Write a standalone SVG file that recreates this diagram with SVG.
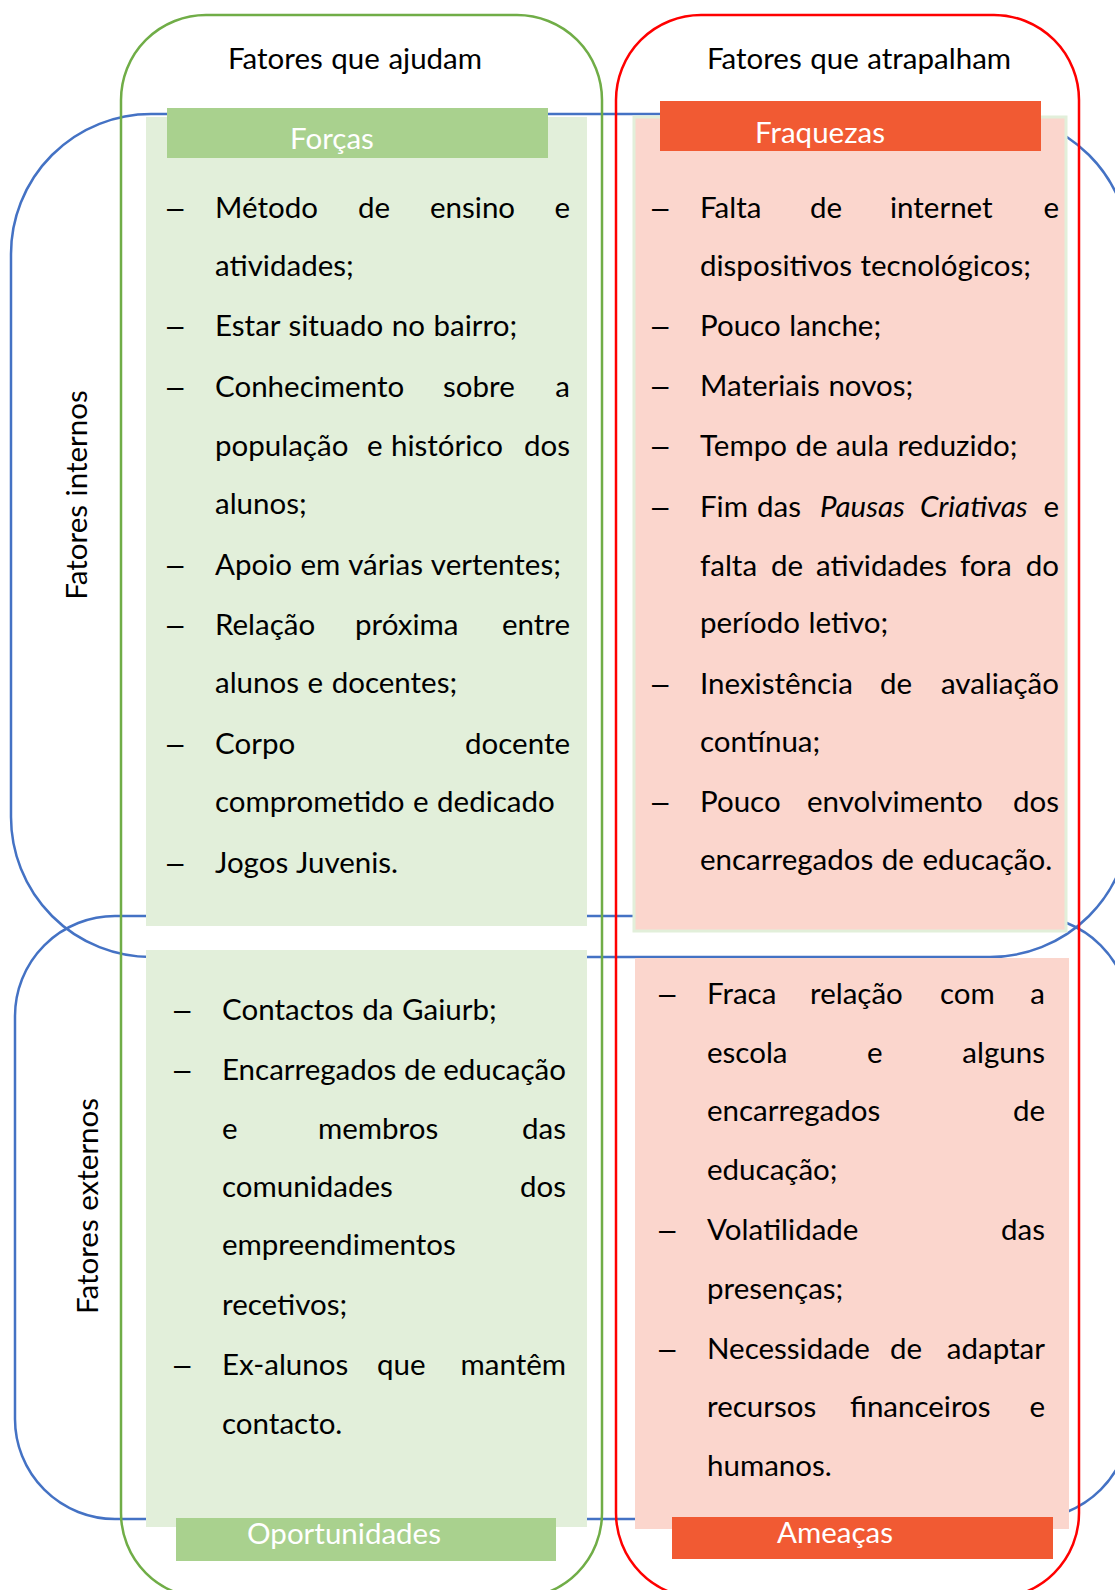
<svg xmlns="http://www.w3.org/2000/svg" width="1115" height="1590" viewBox="0 0 1115 1590">
<style>
  .t { font-family: Lato, "Open Sans", "Liberation Sans", sans-serif; font-size: 29.5px; fill: #000; word-spacing: 1px; }
  .d { font-family: "Liberation Sans", Arial, sans-serif; font-size: 29.5px; fill: #000; }
  .w { fill: #ffffff; text-anchor: middle; }
  .m { text-anchor: middle; }
  .r { text-anchor: end; }
  .i { font-style: italic; }
  .blue { fill: none; stroke: #4472C4; stroke-width: 2.5; }
  .lg { fill: #E2EFDA; }
  .hg { fill: #A9D18E; }
  .pk { fill: #FBD6CD; }
  .hr { fill: #F15A33; }
</style>
<rect width="1115" height="1590" fill="#ffffff"/>

<g id="group-internos">
  <rect class="blue" x="11" y="114" width="1119" height="843" rx="140" ry="140"/>
  <text class="t m" transform="translate(87,495) rotate(-90)">Fatores internos</text>
</g>
<g id="group-externos">
  <rect class="blue" x="15" y="916" width="1115" height="603" rx="100" ry="100"/>
  <text class="t m" transform="translate(98,1206) rotate(-90)">Fatores externos</text>
</g>
<g id="group-ajudam">
  <rect x="121" y="15" width="481" height="1583" rx="85" ry="85" fill="none" stroke="#70AD47" stroke-width="2.5"/>
  <text class="t m" x="355" y="69">Fatores que ajudam</text>
</g>
<g id="group-atrapalham">
  <rect x="616" y="15" width="463" height="1583" rx="85" ry="85" fill="none" stroke="#FF0000" stroke-width="2.5"/>
  <text class="t m" x="859" y="69">Fatores que atrapalham</text>
</g>

<g id="connectors"/>

<g id="forcas">
  <rect class="lg" x="146" y="117" width="441" height="809"/>
  <rect class="hg" x="167" y="108" width="381" height="50"/>
  <text class="t w" x="332" y="149">Forças</text>
  <text class="d" x="167" y="218">–</text>
  <text class="t" x="215" y="218">Método</text><text class="t" x="358" y="218">de</text><text class="t" x="430" y="218">ensino</text><text class="t r" x="570" y="218">e</text>
  <text class="t" x="215" y="276">atividades;</text>
  <text class="d" x="167" y="336">–</text>
  <text class="t" x="215" y="336">Estar situado no bairro;</text>
  <text class="d" x="167" y="397">–</text>
  <text class="t" x="215" y="397">Conhecimento</text><text class="t" x="443" y="397">sobre</text><text class="t r" x="570" y="397">a</text>
  <text class="t" x="215" y="456">população</text><text class="t" x="367" y="456">e</text><text class="t" x="391" y="456">histórico</text><text class="t r" x="570" y="456">dos</text>
  <text class="t" x="215" y="514">alunos;</text>
  <text class="d" x="167" y="575">–</text>
  <text class="t" x="215" y="575">Apoio em várias vertentes;</text>
  <text class="d" x="167" y="635">–</text>
  <text class="t" x="215" y="635">Relação</text><text class="t" x="355" y="635">próxima</text><text class="t r" x="570" y="635">entre</text>
  <text class="t" x="215" y="693">alunos e docentes;</text>
  <text class="d" x="167" y="754">–</text>
  <text class="t" x="215" y="754">Corpo</text><text class="t r" x="570" y="754">docente</text>
  <text class="t" x="215" y="812">comprometido e dedicado</text>
  <text class="d" x="167" y="873">–</text>
  <text class="t" x="215" y="873">Jogos Juvenis.</text>
</g>

<g id="fraquezas">
  <rect class="pk" x="634" y="117" width="432" height="814" stroke="#E2EFDA" stroke-width="3"/>
  <rect class="hr" x="660" y="101" width="381" height="50"/>
  <text class="t w" x="820" y="143">Fraquezas</text>
  <text class="d" x="652" y="218">–</text>
  <text class="t" x="700" y="218">Falta</text><text class="t" x="810" y="218">de</text><text class="t" x="890" y="218">internet</text><text class="t r" x="1059" y="218">e</text>
  <text class="t" x="700" y="276">dispositivos tecnológicos;</text>
  <text class="d" x="652" y="336">–</text>
  <text class="t" x="700" y="336">Pouco lanche;</text>
  <text class="d" x="652" y="396">–</text>
  <text class="t" x="700" y="396">Materiais novos;</text>
  <text class="d" x="652" y="456">–</text>
  <text class="t" x="700" y="456">Tempo de aula reduzido;</text>
  <text class="d" x="652" y="517">–</text>
  <text class="t" x="700" y="517">Fim</text><text class="t" x="757" y="517">das</text><text class="t i" x="820" y="517">Pausas</text><text class="t i" x="920" y="517">Criativas</text><text class="t r" x="1059" y="517">e</text>
  <text class="t" x="700" y="576">falta</text><text class="t" x="771" y="576">de</text><text class="t" x="816" y="576">atividades</text><text class="t" x="960" y="576">fora</text><text class="t r" x="1059" y="576">do</text>
  <text class="t" x="700" y="633">período letivo;</text>
  <text class="d" x="652" y="694">–</text>
  <text class="t" x="700" y="694">Inexistência</text><text class="t" x="880" y="694">de</text><text class="t r" x="1059" y="694">avaliação</text>
  <text class="t" x="700" y="752">contínua;</text>
  <text class="d" x="652" y="812">–</text>
  <text class="t" x="700" y="812">Pouco</text><text class="t" x="807" y="812">envolvimento</text><text class="t r" x="1059" y="812">dos</text>
  <text class="t" x="700" y="870">encarregados de educação.</text>
</g>

<g id="oportunidades">
  <rect class="lg" x="146" y="950" width="441" height="577"/>
  <rect class="hg" x="176" y="1518" width="380" height="43"/>
  <text class="t w" x="344" y="1544">Oportunidades</text>
  <text class="d" x="174" y="1020">–</text>
  <text class="t" x="222" y="1020">Contactos da Gaiurb;</text>
  <text class="d" x="174" y="1080">–</text>
  <text class="t" x="222" y="1080">Encarregados</text><text class="t" x="404" y="1080">de</text><text class="t r" x="566" y="1080">educação</text>
  <text class="t" x="222" y="1139">e</text><text class="t" x="318" y="1139">membros</text><text class="t r" x="566" y="1139">das</text>
  <text class="t" x="222" y="1197">comunidades</text><text class="t r" x="566" y="1197">dos</text>
  <text class="t" x="222" y="1255">empreendimentos</text>
  <text class="t" x="222" y="1315">recetivos;</text>
  <text class="d" x="174" y="1375">–</text>
  <text class="t" x="222" y="1375">Ex-alunos</text><text class="t" x="377" y="1375">que</text><text class="t r" x="566" y="1375">mantêm</text>
  <text class="t" x="222" y="1434">contacto.</text>
</g>

<g id="ameacas">
  <rect class="pk" x="635" y="958" width="434" height="571"/>
  <rect class="hr" x="672" y="1517" width="381" height="42"/>
  <text class="t w" x="835" y="1543">Ameaças</text>
  <text class="d" x="659" y="1004">–</text>
  <text class="t" x="707" y="1004">Fraca</text><text class="t" x="810" y="1004">relação</text><text class="t" x="940" y="1004">com</text><text class="t r" x="1045" y="1004">a</text>
  <text class="t" x="707" y="1063">escola</text><text class="t" x="867" y="1063">e</text><text class="t r" x="1045" y="1063">alguns</text>
  <text class="t" x="707" y="1121">encarregados</text><text class="t r" x="1045" y="1121">de</text>
  <text class="t" x="707" y="1180">educação;</text>
  <text class="d" x="659" y="1240">–</text>
  <text class="t" x="707" y="1240">Volatilidade</text><text class="t r" x="1045" y="1240">das</text>
  <text class="t" x="707" y="1299">presenças;</text>
  <text class="d" x="659" y="1359">–</text>
  <text class="t" x="707" y="1359">Necessidade</text><text class="t" x="890" y="1359">de</text><text class="t r" x="1045" y="1359">adaptar</text>
  <text class="t" x="707" y="1417">recursos</text><text class="t" x="850" y="1417">financeiros</text><text class="t r" x="1045" y="1417">e</text>
  <text class="t" x="707" y="1476">humanos.</text>
</g>
</svg>
